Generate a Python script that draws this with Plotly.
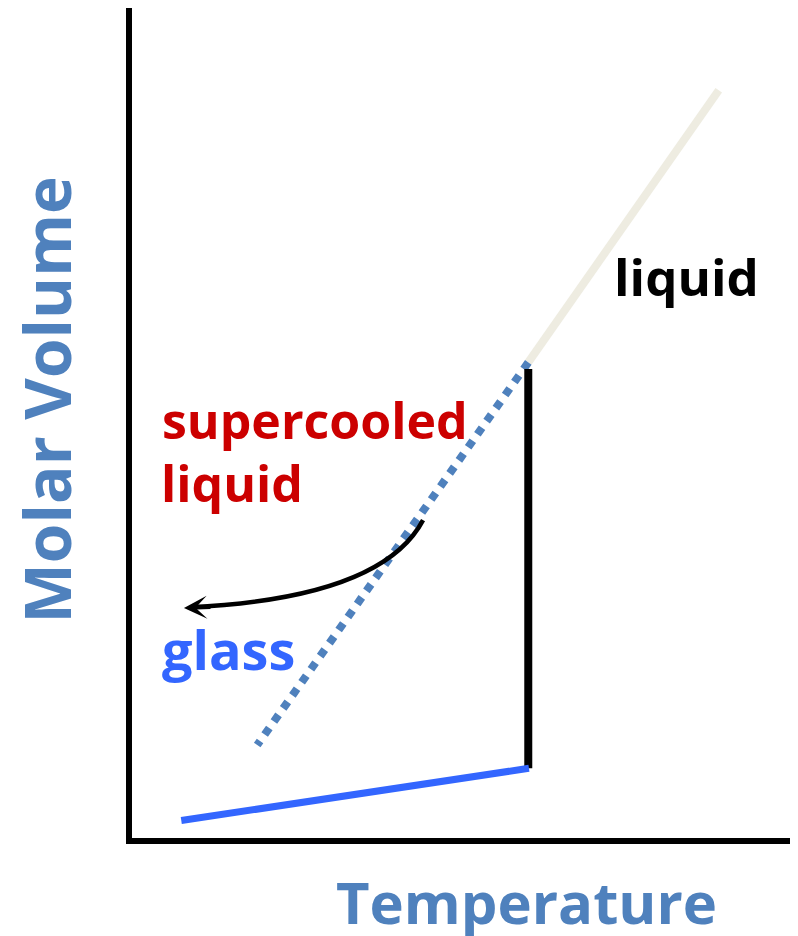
import plotly.graph_objects as go

# ---- data (arbitrary units: Temperature 0-10, Molar Volume 0-10) ----
liquid_T = [5.95, 8.81]
liquid_V = [5.73, 9.01]

supercooled_T = [5.95, 1.88]
supercooled_V = [5.73, 1.12]

melting_T = [5.95, 5.95]
melting_V = [5.65, 0.84]

glass_T = [0.74, 5.96]
glass_V = [0.21, 0.84]

# quench arrow: start, control, end (quadratic curve), arrow tip
arrow_T = [4.37, 3.75, 0.87]
arrow_V = [3.83, 2.89, 2.78]
arrow_tip = (0.78, 2.77)

FONT = "Open Sans"
AXIS_BLUE = "#4F81BD"

fig = go.Figure()

fig.add_trace(go.Scatter(x=liquid_T, y=liquid_V, mode="lines",
                         line=dict(color="#EEECE1", width=8), hoverinfo="skip"))
fig.add_trace(go.Scatter(x=supercooled_T, y=supercooled_V, mode="lines",
                         line=dict(color="#4F81BD", width=8, dash="dot"), hoverinfo="skip"))
fig.add_trace(go.Scatter(x=melting_T, y=melting_V, mode="lines",
                         line=dict(color="black", width=8), hoverinfo="skip"))
fig.add_trace(go.Scatter(x=glass_T, y=glass_V, mode="lines",
                         line=dict(color="#3366FF", width=7), hoverinfo="skip"))

path = "M {0},{1} Q {2},{3} {4},{5}".format(arrow_T[0], arrow_V[0], arrow_T[1], arrow_V[1],
                                          arrow_T[2], arrow_V[2])
fig.add_shape(type="path", path=path, xref="x", yref="y",
              line=dict(color="black", width=4.5))

fig.add_annotation(x=arrow_tip[0], y=arrow_tip[1], xref="x", yref="y", text="",
                   showarrow=True, ax=28, ay=-1, arrowhead=3, arrowsize=1.1,
                   arrowwidth=3.5, arrowcolor="black")

def label(text, x, y, size, color, xanchor="left", xref="x", yref="y", angle=0):
    fig.add_annotation(x=x, y=y, xref=xref, yref=yref, text=text, showarrow=False,
                       xanchor=xanchor, yanchor="middle", textangle=angle,
                       font=dict(family=FONT, size=size, color=color, weight="bold"))

label("liquid", 8.32, 6.77, 51, "black", xanchor="center")
label("supercooled", 0.42, 5.04, 50, "#CC0000")
label("liquid", 0.41, 4.28, 50, "#CC0000")
label("glass", 0.42, 2.28, 54, "#3366FF")
label("Temperature", 0.593, -0.077, 58, AXIS_BLUE, xanchor="center", xref="paper", yref="paper")
label("Molar Volume", -0.128, 0.528, 64, AXIS_BLUE, xanchor="center", xref="paper", yref="paper",
      angle=-90)

axis_common = dict(showgrid=False, zeroline=False, showticklabels=False, ticks="",
                   showline=True, linewidth=6, linecolor="black", fixedrange=True)
fig.update_layout(
    width=790, height=928,
    margin=dict(l=124, r=0, t=0, b=98),
    paper_bgcolor="white", plot_bgcolor="white",
    showlegend=False,
    xaxis=dict(range=[0, 10], **axis_common),
    yaxis=dict(range=[0, 10], **axis_common),
)

fig.write_html("out.html")
